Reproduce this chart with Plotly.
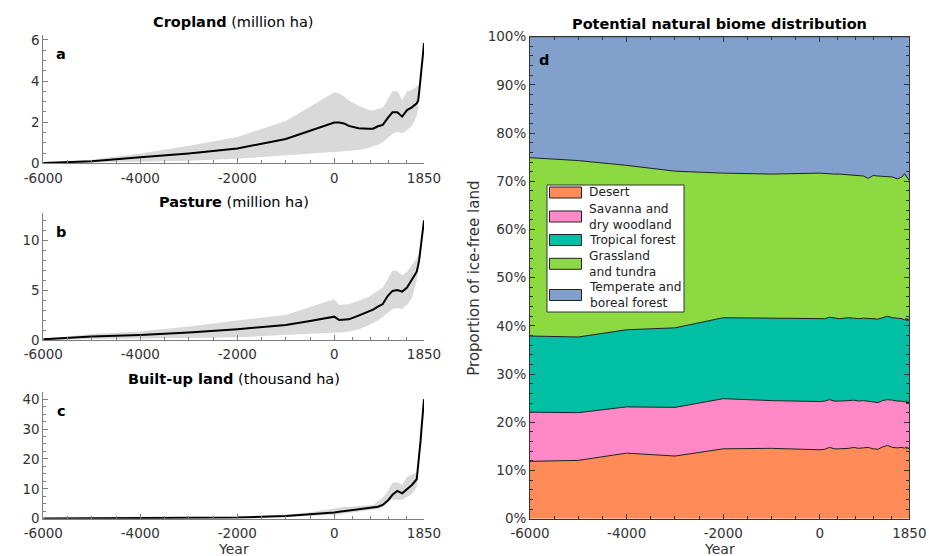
import plotly.graph_objects as go

# ---- land-use reconstructions (years, mean and uncertainty band) ----
years_lu = [-6000, -5000, -4000, -3000, -2000, -1000, -500, 0, 100, 200, 300, 500, 700, 800,
            900, 1000, 1100, 1200, 1300, 1400, 1500, 1600, 1700, 1730, 1750, 1780, 1800,
            1820, 1840, 1850]

crop_mean = [0.02, 0.10, 0.29, 0.48, 0.72, 1.18, 1.58, 1.98, 1.98, 1.94, 1.82, 1.71, 1.68, 1.68,
             1.80, 1.87, 2.20, 2.48, 2.48, 2.27, 2.59, 2.72, 2.92, 3.05, 3.45, 4.05, 4.55,
             5.10, 5.60, 5.85]
crop_high = [0.03, 0.17, 0.48, 0.85, 1.28, 2.06, 2.75, 3.45, 3.40, 3.25, 3.05, 2.80, 2.60, 2.55,
             2.65, 2.70, 3.10, 3.50, 3.52, 3.08, 3.50, 3.57, 3.73, 3.80, 3.85, 4.05, 4.55,
             5.10, 5.60, 5.85]
crop_low = [0.00, 0.03, 0.06, 0.12, 0.22, 0.37, 0.45, 0.53, 0.55, 0.58, 0.61, 0.65, 0.75, 0.81,
            0.90, 1.02, 1.22, 1.42, 1.54, 1.46, 1.62, 1.80, 2.30, 2.70, 3.20, 4.05, 4.55,
            5.10, 5.60, 5.85]

past_mean = [0.07, 0.34, 0.50, 0.74, 1.08, 1.50, 1.90, 2.34, 2.00, 2.05, 2.07, 2.45, 2.85, 3.05,
             3.34, 3.60, 4.40, 4.92, 5.00, 4.85, 5.25, 6.00, 6.85, 7.50, 8.00, 9.20, 9.90,
             10.90, 11.80, 12.00]
past_high = [0.10, 0.60, 0.85, 1.35, 1.96, 2.50, 3.30, 4.08, 3.50, 3.55, 3.60, 3.90, 4.30, 4.60,
             4.95, 5.25, 6.10, 6.95, 6.95, 6.50, 6.85, 7.50, 8.20, 8.40, 8.60, 9.20, 9.90,
             10.90, 11.80, 12.00]
past_low = [0.03, 0.07, 0.13, 0.20, 0.27, 0.50, 0.58, 0.67, 0.72, 0.78, 0.84, 1.05, 1.45, 1.70,
            1.95, 2.30, 2.70, 3.10, 3.20, 3.10, 3.50, 4.20, 6.00, 7.20, 7.90, 9.20, 9.90,
            10.90, 11.80, 12.00]

built_mean = [0.05, 0.08, 0.12, 0.22, 0.40, 0.90, 1.40, 2.10, 2.30, 2.50, 2.60, 3.00, 3.40, 3.70,
              4.00, 4.60, 6.00, 8.00, 9.30, 8.50, 9.90, 11.30, 13.20, 17.30, 21.00, 26.20, 30.50,
              35.50, 39.00, 40.00]
built_high = [0.06, 0.10, 0.15, 0.30, 0.55, 1.30, 2.20, 3.50, 3.70, 3.90, 4.00, 4.30, 4.50, 4.60,
              5.80, 7.00, 9.20, 12.00, 12.20, 11.40, 14.00, 14.80, 15.50, 17.30, 21.00, 26.20,
              30.50, 35.50, 39.00, 40.00]
built_low = [0.04, 0.06, 0.09, 0.15, 0.25, 0.60, 0.90, 1.20, 1.40, 1.70, 1.90, 2.40, 2.80, 2.90,
             3.20, 3.90, 5.80, 6.30, 6.30, 6.30, 7.30, 8.30, 10.50, 17.30, 21.00, 26.20, 30.50,
             35.50, 39.00, 40.00]

# ---- potential natural biome shares (% of ice-free land) ----
years_biome = [-6000, -5000, -4000, -3000, -2000, -1000, 0, 100, 200, 300, 400, 500, 600, 700,
               800, 900, 1000, 1100, 1200, 1300, 1400, 1500, 1600, 1700, 1750, 1780, 1800,
               1820, 1840, 1850]
desert = [11.9, 12.1, 13.6, 13.0, 14.5, 14.6, 14.3, 14.4, 14.8, 14.5, 14.5, 14.5, 14.6, 14.8,
          14.6, 14.7, 14.8, 14.5, 14.4, 14.9, 15.2, 14.8, 14.7, 14.8, 14.6, 14.9, 14.5,
          14.8, 14.4, 14.4]
savanna = [10.2, 9.9, 9.6, 10.1, 10.4, 9.9, 10.0, 10.0, 9.9, 9.9, 9.9, 9.9, 9.9, 9.8,
           9.8, 9.8, 9.6, 9.8, 9.7, 9.6, 9.5, 9.8, 9.7, 9.6, 9.6, 9.6, 9.3,
           9.5, 9.6, 9.8]
tropical = [15.8, 15.7, 16.0, 16.5, 16.8, 17.1, 17.1, 17.1, 17.1, 17.2, 17.1, 17.2, 17.2, 17.0,
            17.1, 17.1, 17.2, 17.2, 17.3, 17.2, 17.3, 17.1, 17.2, 17.1, 17.0, 17.1, 17.2,
            17.2, 17.1, 17.1]
grassland = [37.0, 36.6, 34.1, 32.5, 30.0, 29.9, 30.3, 30.1, 29.7, 29.9, 30.0, 29.8, 29.7, 29.7,
             29.7, 29.5, 29.0, 29.7, 29.7, 29.3, 28.9, 29.2, 28.9, 29.4, 30.4, 29.6, 29.8,
             29.0, 29.2, 28.8]
temperate = [25.1, 25.7, 26.7, 27.9, 28.3, 28.5, 28.3, 28.4, 28.5, 28.5, 28.5, 28.6, 28.6, 28.7,
             28.8, 28.9, 29.4, 28.8, 28.9, 29.0, 29.1, 29.1, 29.5, 29.1, 28.4, 28.8, 29.2,
             29.5, 29.7, 29.9]

biome_names = ["Desert", "Savanna and<br>dry woodland", "Tropical forest",
               "Grassland<br>and tundra", "Temperate and<br>boreal forest"]
biome_colors = ["#FF8B59", "#FF88C6", "#00BFA5", "#8DD942", "#82A0CC"]

year_ticks = [-6000, -4000, -2000, 0, 1850]
year_minor = [-5500, -5000, -4500, -3500, -3000, -2500, -1500, -1000, -500, 370, 740, 1110, 1480]

W, H = 929, 556
FONT = "DejaVu Sans"
TICK_COLOR = "#333333"


def fx(px):
    return px / W


def fy(py):
    return 1 - py / H


fig = go.Figure()

land_panels = [
    (crop_mean, crop_low, crop_high, "", "y"),
    (past_mean, past_low, past_high, "2", "y2"),
    (built_mean, built_low, built_high, "3", "y3"),
]
for mean, low, high, sfx, yref in land_panels:
    xa = "x" + sfx
    fig.add_trace(go.Scatter(x=years_lu, y=low, mode="lines", line=dict(width=0),
                             showlegend=False, hoverinfo="skip", xaxis=xa, yaxis=yref))
    fig.add_trace(go.Scatter(x=years_lu, y=high, mode="lines", line=dict(width=0),
                             fill="tonexty", fillcolor="#d9d9d9",
                             showlegend=False, hoverinfo="skip", xaxis=xa, yaxis=yref))
    fig.add_trace(go.Scatter(x=years_lu, y=mean, mode="lines",
                             line=dict(color="black", width=2),
                             showlegend=False, xaxis=xa, yaxis=yref))

for name, vals, col in zip(biome_names, [desert, savanna, tropical, grassland, temperate],
                           biome_colors):
    fig.add_trace(go.Scatter(x=years_biome, y=vals, mode="lines", stackgroup="biome",
                             name=name.replace("<br>", " "),
                             line=dict(color="#1e1e1e", width=1), fillcolor=col,
                             showlegend=False, xaxis="x4", yaxis="y4"))


def x_axis(domain, anchor, box=False):
    col = "#333333" if box else "#7f7f7f"
    return dict(domain=domain, anchor=anchor, range=[-6000, 1850], automargin=False,
                tickmode="array", tickvals=year_ticks,
                ticktext=[str(v) for v in year_ticks],
                ticks="inside", ticklen=5, tickwidth=1, tickcolor=col,
                ticklabelstandoff=2,
                showline=True, linewidth=1, linecolor=col,
                mirror="ticks" if box else False,
                showgrid=False, zeroline=False,
                tickfont=dict(family=FONT, size=13.5, color=TICK_COLOR),
                minor=dict(tickmode="array", tickvals=year_minor, ticks="inside",
                           ticklen=3, tickcolor=col, showgrid=False))


def y_axis(domain, anchor, rng, dtick, minor_dtick, box=False, suffix=""):
    col = "#333333" if box else "#7f7f7f"
    return dict(domain=domain, anchor=anchor, range=rng, dtick=dtick, tick0=0,
                automargin=False,
                ticks="inside", ticklen=5, tickwidth=1, tickcolor=col,
                showline=True, linewidth=1, linecolor=col,
                mirror="ticks" if box else False, ticksuffix=suffix,
                showgrid=False, zeroline=False,
                tickfont=dict(family=FONT, size=13.5, color=TICK_COLOR),
                minor=dict(dtick=minor_dtick, tick0=0, ticks="inside", ticklen=3,
                           tickcolor=col, showgrid=False))


left_dom = [fx(43.3), fx(424)]
right_dom = [fx(530), fx(909.3)]

fig.update_layout(
    template="none",
    width=W, height=H,
    margin=dict(l=0, r=0, t=0, b=0),
    paper_bgcolor="white", plot_bgcolor="white",
    showlegend=False,
    font=dict(family=FONT, color="black"),
    xaxis=x_axis(left_dom, "y"),
    yaxis=y_axis([fy(163.3), fy(35)], "x", [0, 6.24], 2, 0.5),
    xaxis2=x_axis(left_dom, "y2"),
    yaxis2=y_axis([fy(340), fy(213.3)], "x2", [0, 12.7], 5, 1),
    xaxis3=x_axis(left_dom, "y3"),
    yaxis3=y_axis([fy(518.7), fy(391.7)], "x3", [0, 42.5], 10, 2.5),
    xaxis4=x_axis(right_dom, "y4", box=True),
    yaxis4=y_axis([fy(518.7), fy(36.7)], "x4", [0, 100], 10, 2, box=True, suffix="%"),
)

annotations = []
titles = [
    ("<b>Cropland</b> (million ha)", 233.7, 22),
    ("<b>Pasture</b> (million ha)", 233.7, 201.5),
    ("<b>Built-up land</b> (thousand ha)", 233.7, 379),
    ("<b>Potential natural biome distribution</b>", 719.7, 24.5),
]
for text, x, y in titles:
    annotations.append(dict(text=text, x=fx(x), y=fy(y), xref="paper", yref="paper",
                            xanchor="center", yanchor="middle", showarrow=False,
                            font=dict(family=FONT, size=14.5, color="black")))

for lab, x, y in [("a", 61, 54), ("b", 61, 232.5), ("c", 61, 411), ("d", 543.5, 59.5)]:
    annotations.append(dict(text="<b>%s</b>" % lab, x=fx(x), y=fy(y), xref="paper", yref="paper",
                            xanchor="center", yanchor="middle", showarrow=False,
                            font=dict(family=FONT, size=14.5, color="black")))

for x in (233.7, 719.7):
    annotations.append(dict(text="Year", x=fx(x), y=0, xref="paper", yref="paper",
                            xanchor="center", yanchor="bottom", yshift=-3, showarrow=False,
                            font=dict(family=FONT, size=14, color=TICK_COLOR)))

annotations.append(dict(text="Proportion of ice-free land", x=fx(474), y=fy(277.7),
                        xref="paper", yref="paper", textangle=-90,
                        xanchor="center", yanchor="middle", showarrow=False,
                        font=dict(family=FONT, size=15, color=TICK_COLOR)))

# legend for the biome panel
shapes = [dict(type="rect", xref="paper", yref="paper",
               x0=fx(547), x1=fx(684), y0=fy(312), y1=fy(185),
               fillcolor="white", line=dict(color="#333333", width=1), layer="above")]
legend_rows = [192.5, 216.5, 240, 263.8, 295]
for name, col, yc in zip(biome_names, biome_colors, legend_rows):
    shapes.append(dict(type="rect", xref="paper", yref="paper",
                       x0=fx(549.5), x1=fx(581.5), y0=fy(yc + 5.5), y1=fy(yc - 5.5),
                       fillcolor=col, line=dict(color="#222222", width=1), layer="above"))
    annotations.append(dict(text=name, x=fx(587), y=fy(yc), xref="paper", yref="paper",
                            xanchor="left", yanchor="middle", align="left", showarrow=False,
                            font=dict(family=FONT, size=12.2, color="#222222")))

fig.update_layout(annotations=annotations, shapes=shapes)

fig.write_html("out.html")
